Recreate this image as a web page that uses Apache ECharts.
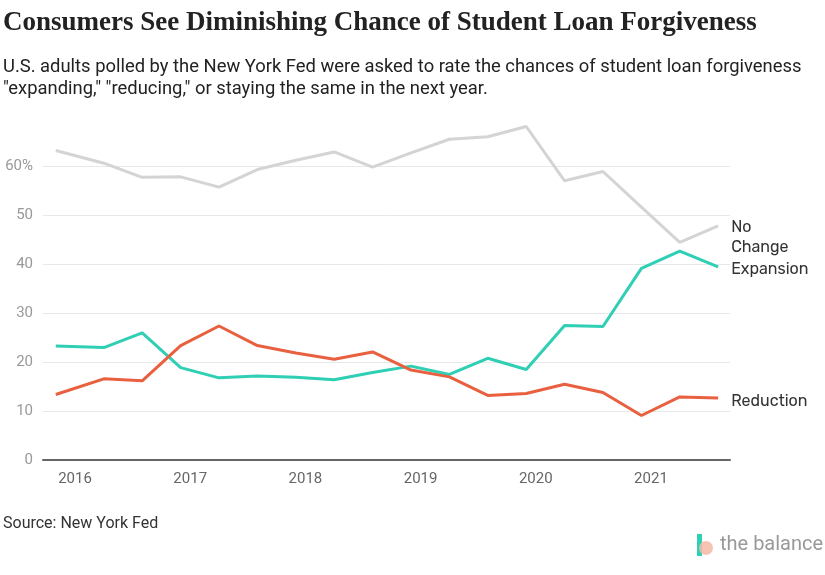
<!DOCTYPE html>
<html>
<head>
<meta charset="utf-8">
<script src="https://cdn.jsdelivr.net/npm/echarts@6/dist/echarts.min.js"></script>
<style>
  html, body { margin: 0; padding: 0; background: #fff; }
  #chart { width: 825px; height: 575px; }
</style>
</head>
<body>
<div id="chart"></div>
<script>
// survey dates as decimal years (Nov 2015, then every 4 months)
const dates = [2015.833, 2016.25, 2016.583, 2016.917, 2017.25, 2017.583, 2017.917,
  2018.25, 2018.583, 2018.917, 2019.25, 2019.583, 2019.917, 2020.25, 2020.583,
  2020.917, 2021.25, 2021.583];
const noChange = [63.3, 60.7, 57.8, 57.9, 55.8, 59.4, 61.3, 63.0, 59.9, 62.8, 65.6,
  66.1, 68.2, 57.1, 59.0, 51.7, 44.5, 47.9];
const expansion = [23.3, 23.0, 26.0, 18.9, 16.8, 17.2, 16.9, 16.4, 17.9, 19.2, 17.5,
  20.8, 18.5, 27.5, 27.3, 39.2, 42.7, 39.5];
const reduction = [13.4, 16.6, 16.2, 23.4, 27.4, 23.4, 21.9, 20.6, 22.1, 18.4, 17.0,
  13.2, 13.6, 15.5, 13.8, 9.1, 12.9, 12.7];
const yearTicks = [2016, 2017, 2018, 2019, 2020, 2021];

const pairs = arr => arr.map((v, i) => [dates[i], v]);

const myChart = echarts.init(document.getElementById('chart'));

function lineSeries (name, data, color, label, offset) {
  return {
    name: name,
    type: 'line',
    data: pairs(data),
    symbol: 'none',
    lineStyle: { color: color, width: 3 },
    itemStyle: { color: color },
    animation: false,
    endLabel: {
      show: true,
      formatter: label,
      color: '#333',
      fontFamily: 'Rubik, Roboto, sans-serif',
      fontSize: 16,
      lineHeight: 20,
      distance: 13,
      offset: offset
    }
  };
}

myChart.setOption({
  animation: false,
  title: [
    {
      text: 'Consumers See Diminishing Chance of Student Loan Forgiveness',
      left: 3,
      top: 10,
      padding: 0,
      textStyle: {
        fontFamily: 'Liberation Serif',
        fontWeight: 'bold',
        fontSize: 27,
        color: '#222'
      }
    },
    {
      text: 'U.S. adults polled by the New York Fed were asked to rate the chances of student loan forgiveness\n"expanding," "reducing," or staying the same in the next year.',
      left: 3,
      top: 56,
      padding: 0,
      textStyle: {
        fontFamily: 'Roboto',
        fontWeight: 'normal',
        fontSize: 18.4,
        lineHeight: 22,
        color: '#222'
      }
    },
    {
      text: 'Source: New York Fed',
      left: 3,
      top: 516,
      padding: 0,
      textStyle: {
        fontFamily: 'Roboto',
        fontWeight: 'normal',
        fontSize: 16,
        color: '#333'
      }
    }
  ],
  grid: { left: 43, right: 95, top: 117.7, bottom: 115 },
  xAxis: {
    type: 'value',
    min: 2015.722,
    max: 2021.686,
    axisLine: { show: true, onZero: true, lineStyle: { color: '#666', width: 2 } },
    axisTick: { show: false },
    splitLine: { show: false },
    axisLabel: {
      customValues: yearTicks,
      formatter: v => String(v),
      color: '#666',
      fontFamily: 'Roboto',
      fontSize: 15,
      margin: 12
    }
  },
  yAxis: {
    type: 'value',
    min: 0,
    max: 70,
    interval: 10,
    axisLine: { show: false },
    axisTick: { show: false },
    axisLabel: {
      color: '#999',
      fontFamily: 'Roboto',
      fontSize: 15,
      margin: 10,
      formatter: v => v === 70 ? '' : (v === 60 ? v + '%' : String(v))
    },
    splitLine: {
      lineStyle: {
        color: ['#e8e8e8', '#e8e8e8', '#e8e8e8', '#e8e8e8', '#e8e8e8', '#e8e8e8', '#e8e8e8', 'rgba(0,0,0,0)'],
        width: 1
      }
    }
  },
  graphic: [
    { type: 'rect', left: 697, top: 534, shape: { width: 5, height: 22 }, style: { fill: '#2ed0b5' } },
    { type: 'circle', left: 699, top: 541, shape: { r: 7 }, style: { fill: '#f5b9a6', opacity: 0.85 } },
    { type: 'text', left: 720, top: 535, style: { text: 'the balance', fill: '#999', font: '20px Roboto' } }
  ],
  series: [
    lineSeries('No Change', noChange, '#d4d4d4', 'No\nChange', [0, 12]),
    lineSeries('Expansion', expansion, '#2ecfb4', 'Expansion', [0, 3]),
    lineSeries('Reduction', reduction, '#e8603f', 'Reduction', [0, 3])
  ]
});
</script>
</body>
</html>
